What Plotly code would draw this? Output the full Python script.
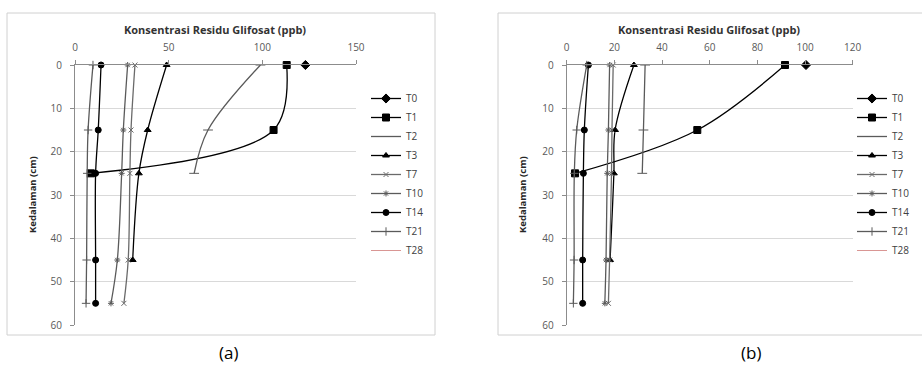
import plotly.graph_objects as go

W, H = 922, 367

depth = [0, 15, 25, 45, 55]
series_names = ["T0", "T1", "T2", "T3", "T7", "T10", "T14", "T21", "T28"]

# Panel (a) values (ppb) by depth
a_vals = {
    "T0": [123],
    "T1": [113, 106, 8.5],
    "T2": [99, 71, 63.6],
    "T3": [48.9, 38.8, 34.1, 30.8],
    "T7": [32, 29.9, 29.3, 28.4, 26.1],
    "T10": [28.1, 25.8, 24.9, 22.6, 19.2],
    "T14": [13.9, 12.4, 11, 11, 11],
    "T21": [9.6, 7, 6.5, 6.2, 5.9],
    "T28": [],
}
# Panel (b) values (ppb) by depth
b_vals = {
    "T0": [100.4],
    "T1": [91.6, 54.8, 3.5],
    "T2": [32.9, 32.2, 31.7],
    "T3": [28.2, 20.3, 19.8, 18.2],
    "T7": [19.5, 19.0, 18.8, 18.0, 17.5],
    "T10": [18.0, 17.5, 17.0, 16.5, 16.0],
    "T14": [9.1, 7.4, 7.0, 6.7, 6.7],
    "T21": [8.4, 4.2, 3.2, 3.1, 2.8],
    "T28": [],
}

x_ticks_a = [0, 50, 100, 150]
x_ticks_b = [0, 20, 40, 60, 80, 100, 120]
y_ticks = [0, 10, 20, 30, 40, 50, 60]

title_text = "Konsentrasi Residu Glifosat (ppb)"
ytitle_text = "Kedalaman (cm)"

styles = {
    "T0": dict(color="#000000", symbol="diamond", size=7),
    "T1": dict(color="#000000", symbol="square", size=7),
    "T2": dict(color="#5a5a5a", symbol="line-ew", size=7),
    "T3": dict(color="#000000", symbol="triangle-up", size=6),
    "T7": dict(color="#6a6a6a", symbol="x-thin", size=5),
    "T10": dict(color="#5a5a5a", symbol="asterisk", size=5),
    "T14": dict(color="#000000", symbol="circle", size=6),
    "T21": dict(color="#5a5a5a", symbol="cross-thin", size=6),
    "T28": dict(color="#d99694", symbol="circle", size=1),
}

fig = go.Figure()

def add_panel(vals, xa, ya, legend):
    for name in series_names:
        v = vals[name]
        st = styles[name]
        line_w = 1.0 if name == "T28" else 1.3
        fig.add_trace(go.Scatter(
            x=v if v else [None], y=depth[:len(v)] if v else [None],
            name=name, mode="lines+markers" if name != "T28" else "lines",
            xaxis=xa, yaxis=ya, legend=legend,
            line=dict(color=st["color"], width=line_w, shape="spline", smoothing=1.0),
            marker=dict(symbol=st["symbol"], size=st["size"], color=st["color"],
                        line=dict(color=st["color"], width=1)),
            cliponaxis=False,
        ))

add_panel(a_vals, "x", "y", "legend")
add_panel(b_vals, "x2", "y2", "legend2")

def px_x(p):
    return p / W

def px_y(p):
    return 1 - p / H

axis_common_x = dict(side="top", showgrid=False, showline=True, linecolor="#8c8c8c",
                     linewidth=1, ticks="outside", ticklen=4, tickcolor="#8c8c8c",
                     tickfont=dict(family="Open Sans", size=10, color="#595959"),
                     zeroline=False, ticklabelstandoff=5, automargin=False)
axis_common_y = dict(autorange=False, range=[60, 0], tickvals=y_ticks, showgrid=True,
                     gridcolor="#d9d9d9", gridwidth=1, showline=True, linecolor="#8c8c8c",
                     ticks="outside", ticklen=4, tickcolor="#8c8c8c",
                     tickfont=dict(family="Open Sans", size=10, color="#595959"),
                     zeroline=False, ticklabelstandoff=6, automargin=False)

ytop, ybot = px_y(65), px_y(325)

leg_font = dict(family="Open Sans", size=10, color="#404040")

fig.update_layout(
    width=W, height=H,
    margin=dict(l=0, r=0, t=0, b=0, autoexpand=False),
    paper_bgcolor="white", plot_bgcolor="white",
    xaxis=dict(domain=[px_x(75), px_x(356)], range=[0, 150], tickvals=x_ticks_a,
               anchor="y", **axis_common_x),
    yaxis=dict(domain=[ybot, ytop], anchor="x", **axis_common_y),
    xaxis2=dict(domain=[px_x(566.7), px_x(852.7)], range=[0, 120], tickvals=x_ticks_b,
                anchor="y2", **axis_common_x),
    yaxis2=dict(domain=[ybot, ytop], anchor="x2", **axis_common_y),
    legend=dict(x=px_x(366), y=px_y(84), xanchor="left", yanchor="top",
                font=leg_font, bgcolor="rgba(0,0,0,0)", itemwidth=30, tracegroupgap=0),
    legend2=dict(x=px_x(852), y=px_y(84), xanchor="left", yanchor="top",
                 font=leg_font, bgcolor="rgba(0,0,0,0)", itemwidth=30, tracegroupgap=0),
    showlegend=True,
)

# chart area borders
fig.add_shape(type="rect", xref="paper", yref="paper",
              x0=px_x(7), x1=px_x(435), y0=px_y(335), y1=px_y(13),
              line=dict(color="#d0d0d0", width=1), layer="below")
fig.add_shape(type="rect", xref="paper", yref="paper",
              x0=px_x(498), x1=px_x(940), y0=px_y(335), y1=px_y(13),
              line=dict(color="#d0d0d0", width=1), layer="below")

def note(x, y, text, size, color, angle=0, bold=False):
    fig.add_annotation(x=px_x(x), y=px_y(y), xref="paper", yref="paper",
                       text=("<b>" + text + "</b>") if bold else text,
                       xanchor="center", yanchor="middle", textangle=angle,
                       showarrow=False, font=dict(family="Open Sans", size=size, color=color))

note(215, 30, title_text, 11, "#333333", bold=True)
note(709, 30, title_text, 11, "#333333", bold=True)
note(32, 195, ytitle_text, 9.5, "#262626", angle=-90, bold=True)
note(522, 195, ytitle_text, 9.5, "#262626", angle=-90, bold=True)
note(228, 352, "(a)", 17, "#000000")
note(751, 352, "(b)", 17, "#000000")

fig.write_html("out.html", config={"displayModeBar": False},
               post_script="document.body.style.margin='0';document.body.style.overflow='hidden';")
